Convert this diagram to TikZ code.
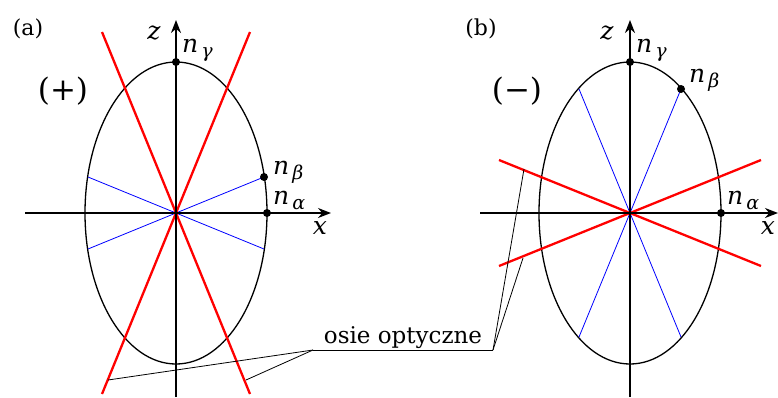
\documentclass[tikz,border=0pt]{standalone}
\usepackage{fontspec}
\setmainfont{DejaVu Serif}
\usetikzlibrary{arrows.meta}
\tikzset{
  axis/.style={line width=1.8pt,-{Stealth[length=13pt,width=10pt]}},
  ell/.style={line width=1.3pt},
  optax/.style={line width=2.3pt,red},
  bluel/.style={line width=0.8pt,blue},
  leader/.style={line width=0.8pt},
  dot/.style={circle,fill=black,inner sep=0pt,minimum size=8pt},
  lbl/.style={font=\fontsize{25}{27}\selectfont\itshape,inner sep=0pt},
  tag/.style={font=\fontsize{22}{24}\selectfont,inner sep=0pt},
  sign/.style={font=\fontsize{31}{34}\selectfont,inner sep=0pt},
  note/.style={font=\fontsize{23}{26}\selectfont,inner sep=0pt}
}
\newcommand{\nsub}[1]{n\raisebox{-5pt}{\fontsize{19}{20}\selectfont\,#1}}
\begin{document}
\begin{tikzpicture}[x=1pt,y=-1pt]
\useasboundingbox (0,0) rectangle (778,397);
% ---------- (a) ----------
\coordinate (A) at (176,213);
\draw[ell] (A) ellipse [x radius=91, y radius=151];
\draw[bluel] (264,177) -- (88,249);
\draw[bluel] (88,177) -- (264,249);
\draw[optax] (102,32) -- (250,394);
\draw[optax] (250,32) -- (102,394);
\coordinate (ax1) at (25,213);
\coordinate (ax2) at (331,213);
\coordinate (az1) at (176,397);
\coordinate (az2) at (176,20);
\draw[axis] (ax1) -- (ax2);
\draw[axis] (az1) -- (az2);
\node[dot] (ga) at (176,62) {};
\node[dot] (ba) at (264,177) {};
\node[dot] (aa) at (267,213) {};
\node[tag] (ta) at (28,29) {(a)};
\node[sign] (sa) at (63,91) {(+)};
\node[lbl] (za) at (154,33) {z};
\node[lbl,anchor=west] (nga) at (182,50) {\nsub{γ}};
\node[lbl,anchor=west] (nba) at (273,172) {\nsub{β}};
\node[lbl,anchor=west] (naa) at (273,200) {\nsub{α}};
\node[lbl] (xa) at (320,228) {x};
% ---------- (b) ----------
\coordinate (B) at (630,213);
\draw[ell] (B) ellipse [x radius=91, y radius=151];
\draw[bluel] (681,89) -- (579,337);
\draw[bluel] (579,89) -- (681,337);
\draw[optax] (499,160) -- (761,266);
\draw[optax] (499,266) -- (761,160);
\coordinate (bx1) at (480,213);
\coordinate (bx2) at (778,213);
\coordinate (bz1) at (630,397);
\coordinate (bz2) at (630,20);
\draw[axis] (bx1) -- (bx2);
\draw[axis] (bz1) -- (bz2);
\node[dot] (gb) at (630,62) {};
\node[dot] (bb) at (681,89) {};
\node[dot] (ab) at (721,213) {};
\node[tag] (tb) at (481,29) {(b)};
\node[sign] (sb) at (517,91) {(−)};
\node[lbl] (zb) at (607,33) {z};
\node[lbl,anchor=west] (ngb) at (636,50) {\nsub{γ}};
\node[lbl,anchor=west] (nbb) at (689,80) {\nsub{β}};
\node[lbl,anchor=west] (nab) at (727,200) {\nsub{α}};
\node[lbl] (xb) at (768,228) {x};
% ---------- leaders ----------
\node[note,anchor=base] (os) at (403,343) {osie optyczne};
\coordinate (uL) at (313,350);
\coordinate (uR) at (493,350);
\coordinate (p1) at (108,380);
\coordinate (p2) at (246,380);
\coordinate (p3) at (524,169);
\coordinate (p4) at (523,258);
\draw[leader] (uL) -- (uR);
\draw[leader] (uL) -- (p1);
\draw[leader] (uL) -- (p2);
\draw[leader] (uR) -- (p3);
\draw[leader] (uR) -- (p4);
\end{tikzpicture}
\end{document}
